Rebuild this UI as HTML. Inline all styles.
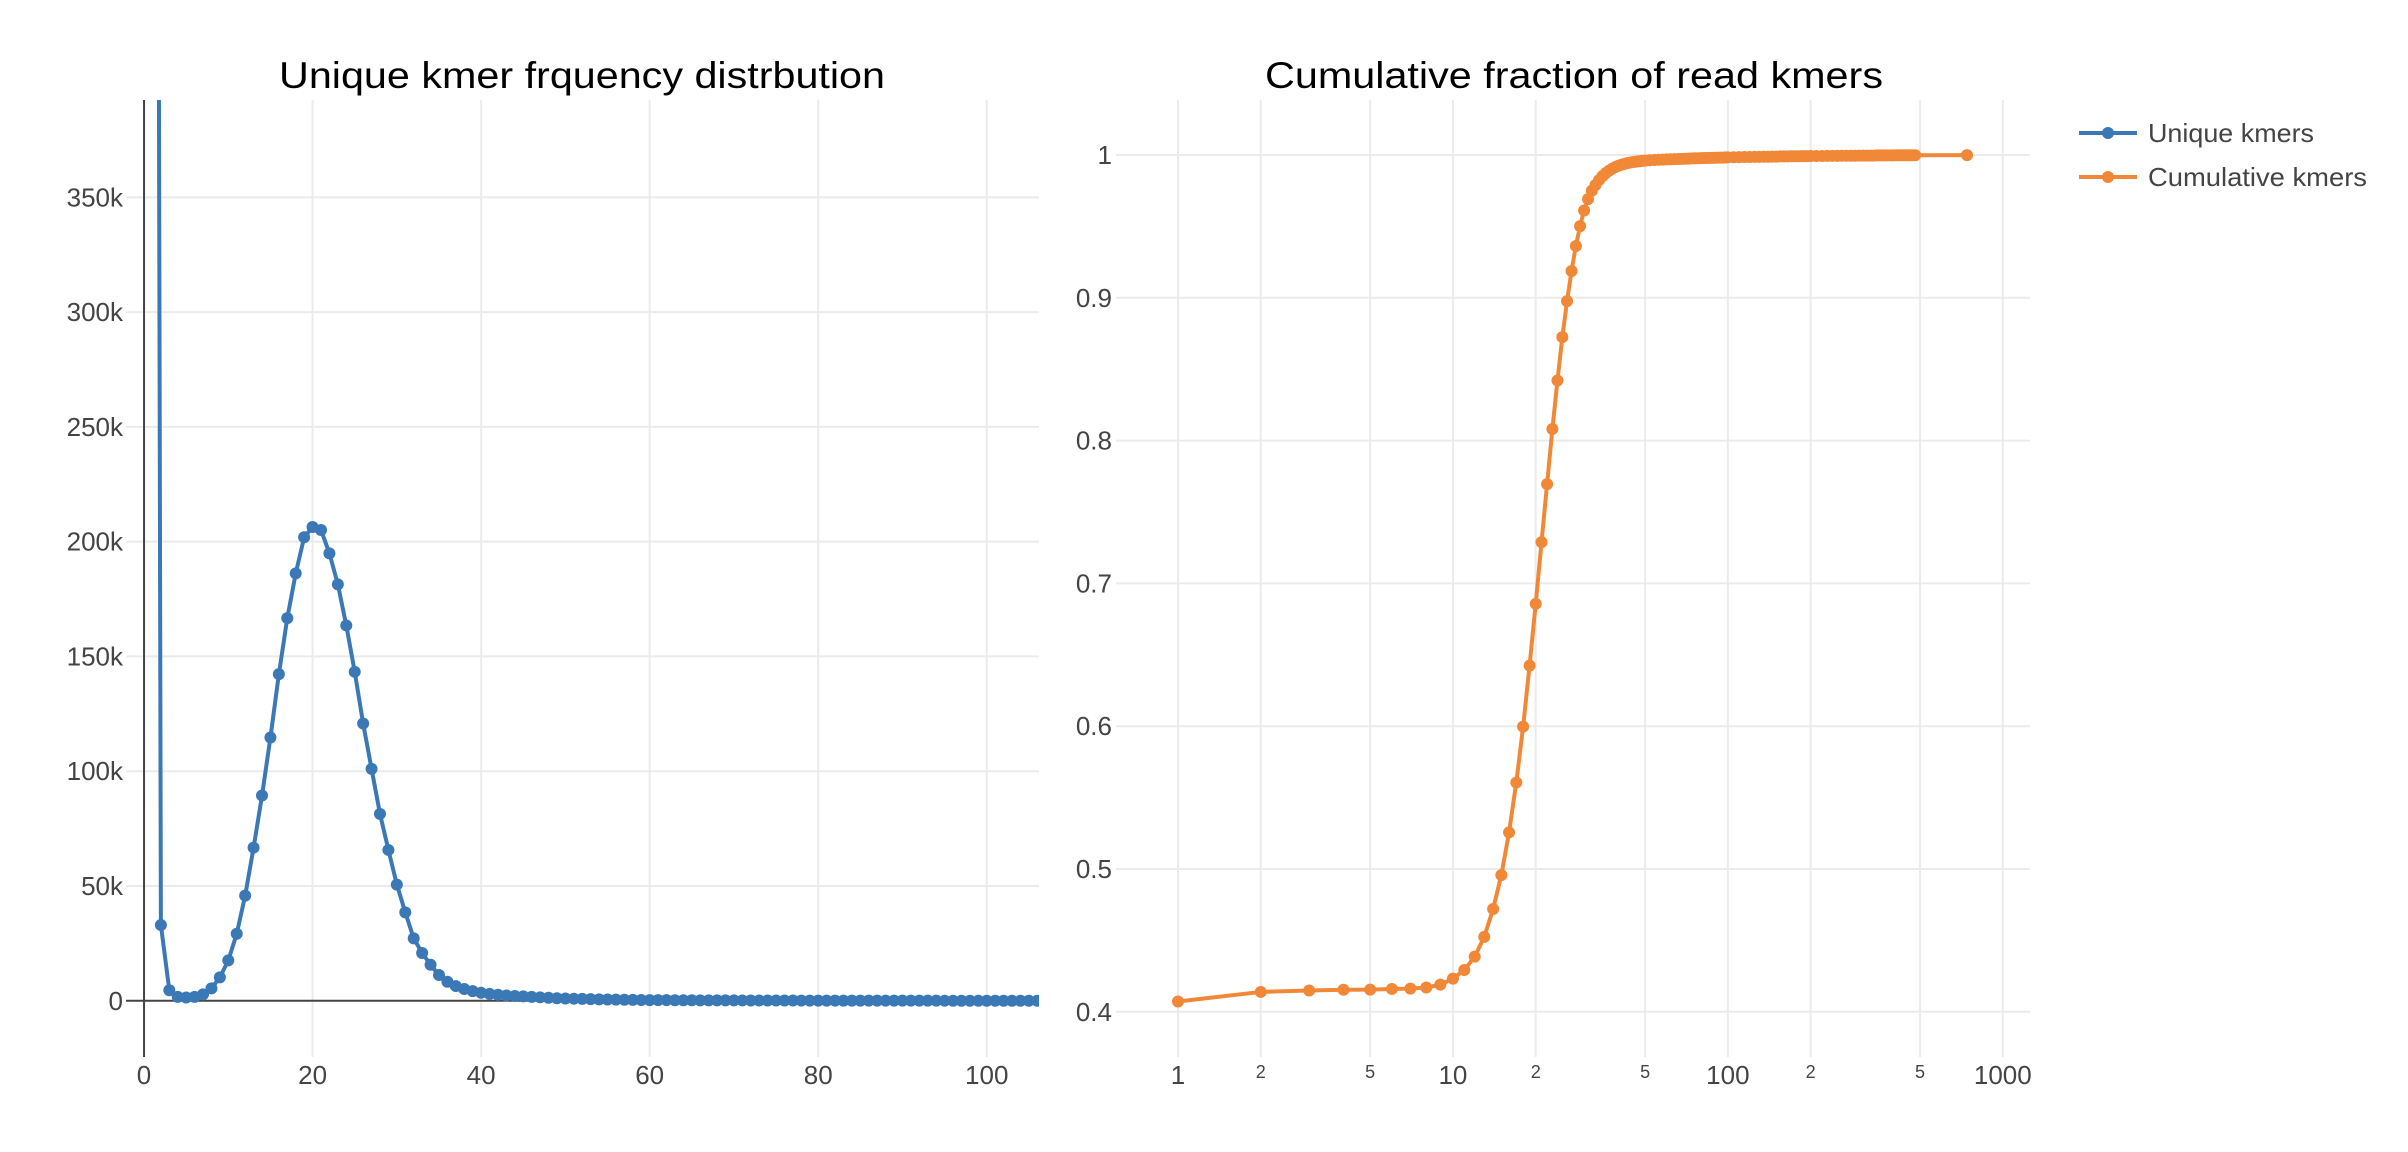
<!DOCTYPE html>
<html><head><meta charset="utf-8"><title>kmer charts</title>
<style>
html,body{margin:0;padding:0;background:#fff;}
svg{display:block;font-family:"Liberation Sans",sans-serif;}
</style></head>
<body>
<svg id="fig" width="2408" height="1152" viewBox="0 0 2408 1152" xmlns="http://www.w3.org/2000/svg">
<defs>
<clipPath id="clipL"><rect x="126" y="100" width="913" height="957"/></clipPath>
<clipPath id="clipR"><rect x="1116" y="94" width="914" height="969"/></clipPath>
</defs>
<g id="left"></g>
<g id="right"></g>
<text x="582" y="88" text-anchor="middle" font-size="37" fill="#000" textLength="606" lengthAdjust="spacingAndGlyphs">Unique kmer frquency distrbution</text>
<text x="1574" y="88" text-anchor="middle" font-size="37" fill="#000" textLength="618" lengthAdjust="spacingAndGlyphs">Cumulative fraction of read kmers</text>
<g>
  <g>
    <line x1="2079" y1="133" x2="2137" y2="133" stroke="#3a78b6" stroke-width="4"/>
    <circle cx="2108" cy="133" r="6" fill="#3a78b6"/>
    <text x="2148" y="142" font-size="26" fill="#444" textLength="166" lengthAdjust="spacingAndGlyphs">Unique kmers</text>
  </g>
  <g>
    <line x1="2079" y1="177" x2="2137" y2="177" stroke="#f08838" stroke-width="4"/>
    <circle cx="2108" cy="177" r="6" fill="#f08838"/>
    <text x="2148" y="186" font-size="26" fill="#444" textLength="219" lengthAdjust="spacingAndGlyphs">Cumulative kmers</text>
  </g>
</g>
</svg>
<script>
// ---- Left chart data ----
const uniqueX = [1,2,3,4,5,6,7,8,9,10,11,12,13,14,15,16,17,18,19,20,21,22,23,24,25,26,27,28,29,30,31,32,33,34,35,36,37,38,39,40,41,42,43,44,45,46,47,48,49,50,51,52,53,54,55,56,57,58,59,60,61,62,63,64,65,66,67,68,69,70,71,72,73,74,75,76,77,78,79,80,81,82,83,84,85,86,87,88,89,90,91,92,93,94,95,96,97,98,99,100,101,102,103,104,105,106,107,108,109,110];
const uniqueY = [1600000,33000,4600,1700,1400,1700,2800,5400,10200,17600,29200,45800,66700,89400,114700,142300,166700,186200,201900,206400,205100,194900,181400,163500,143300,120800,101000,81400,65700,50600,38500,27200,20800,15700,11200,8300,6400,5100,4200,3500,3000,2600,2300,2100,1900,1700,1500,1300,1100,1000,900,800,700,600,550,500,450,400,350,300,280,260,240,220,200,190,180,170,160,150,140,130,120,110,100,95,90,85,80,75,70,65,60,55,50,48,46,44,42,40,38,36,34,32,30,28,26,24,22,20,19,18,17,16,15,14,13,12,11,10];
const leftXTicks = [0,20,40,60,80,100];
const leftYTicks = [0,50000,100000,150000,200000,250000,300000,350000];
const leftYTickLabels = ["0","50k","100k","150k","200k","250k","300k","350k"];

// ---- Right chart data ----
const cumX = [1,2,3,4,5,6,7,8,9,10,11,12,13,14,15,16,17,18,19,20,21,22,23,24,25,26,27,28,29,30,31,32,33,34,35,36,37,38,39,40,41,42,43,44,45,46,47,48,49,50,52,54,56,58,60,62,64,66,68,70,72,74,76,78,80,82,84,86,88,90,92,94,96,98,100,105,110,115,120,125,130,135,140,145,150,155,160,165,170,175,180,185,190,195,200,210,220,230,240,250,260,270,280,290,300,310,320,330,340,350,360,370,380,390,400,410,420,430,440,450,460,470,480,741];
const cumY = [0.4072,0.4139,0.4149,0.4154,0.4155,0.4160,0.4162,0.4170,0.4190,0.4232,0.4293,0.4386,0.4525,0.4720,0.4957,0.5256,0.5606,0.5997,0.6424,0.6857,0.7289,0.7695,0.8081,0.8421,0.8725,0.8977,0.9188,0.9363,0.9502,0.9611,0.9691,0.9750,0.9790,0.9825,0.9852,0.9874,0.9891,0.9905,0.9916,0.9925,0.9932,0.9938,0.9943,0.9947,0.9950,0.9953,0.9955,0.9957,0.9959,0.9961,0.9963,0.9965,0.9967,0.9968,0.9969,0.9970,0.9971,0.9972,0.9973,0.9974,0.9975,0.9976,0.9977,0.9977,0.9978,0.9979,0.9979,0.9980,0.9980,0.9981,0.9981,0.9982,0.9982,0.9983,0.9983,0.9984,0.9985,0.9986,0.9986,0.9987,0.9987,0.9988,0.9988,0.9989,0.9989,0.9990,0.9990,0.9990,0.9991,0.9991,0.9991,0.9992,0.9992,0.9992,0.9993,0.9993,0.9993,0.9994,0.9994,0.9994,0.9995,0.9995,0.9995,0.9995,0.9996,0.9996,0.9996,0.9996,0.9996,0.9997,0.9997,0.9997,0.9997,0.9997,0.9997,0.9998,0.9998,0.9998,0.9998,0.9998,0.9998,0.9998,0.9998,0.99995];
const rightYTicks = [0.4,0.5,0.6,0.7,0.8,0.9,1];
const rightYTickLabels = ["0.4","0.5","0.6","0.7","0.8","0.9","1"];
const rightXMajor = [1,10,100,1000];
const rightXMinor = [2,5,20,50,200,500];

const NS = "http://www.w3.org/2000/svg";
function mk(parent, tag, attrs){
  const e = document.createElementNS(NS, tag);
  for (const k in attrs) e.setAttribute(k, attrs[k]);
  parent.appendChild(e);
  return e;
}

// Left axes
const L = {x0:126, x1:1039, y0:1057, y1:100, xmin:-2.14, xmax:106.2, ymin:-24500, ymax:392400};
const lx = v => L.x0 + (v - L.xmin) / (L.xmax - L.xmin) * (L.x1 - L.x0);
const ly = v => L.y0 - (v - L.ymin) / (L.ymax - L.ymin) * (L.y0 - L.y1);
const gl = document.getElementById('left');

leftXTicks.forEach(t => {
  if (t !== 0) {
    const g = mk(gl, 'line', {x1:lx(t), x2:lx(t), y1:L.y1, y2:L.y0, stroke:'#ebebeb', 'stroke-width':2});
    
    
  }
  const tx = mk(gl, 'text', {x:lx(t), y:1084, 'text-anchor':'middle', 'font-size':26, fill:'#444'});
  tx.textContent = t;
  
  
});
leftYTicks.forEach((t, i) => {
  if (t !== 0) {
    const g = mk(gl, 'line', {x1:L.x0, x2:L.x1, y1:ly(t), y2:ly(t), stroke:'#ebebeb', 'stroke-width':2});
    
    
  }
  const tx = mk(gl, 'text', {x:123, y:ly(t) + 9, 'text-anchor':'end', 'font-size':26, fill:'#444'});
  tx.textContent = leftYTickLabels[i];
  
  
});
const zx = mk(gl, 'line', {x1:lx(0), x2:lx(0), y1:L.y1, y2:L.y0, stroke:'#444', 'stroke-width':2});


const zy = mk(gl, 'line', {x1:L.x0, x2:L.x1, y1:ly(0), y2:ly(0), stroke:'#444', 'stroke-width':2});



const lser = mk(gl, 'g', {'clip-path':'url(#clipL)'});


const lpath = mk(lser, 'polyline', {points: uniqueX.map((x, i) => lx(x) + ',' + ly(uniqueY[i])).join(' '), fill:'none', stroke:'#3a78b6', 'stroke-width':4, 'stroke-linejoin':'round'});


uniqueX.forEach((x, i) => {
  const c = mk(lser, 'circle', {cx:lx(x), cy:ly(uniqueY[i]), r:6, fill:'#3a78b6'});
  
  
});

// Right axes (log x)
const R = {x0:1116, x1:2030, y0:1057, y1:100, lmin:-0.2255, lmax:3.0989, ymin:0.36834, ymax:1.03852};
const rx = v => R.x0 + (Math.log10(v) - R.lmin) / (R.lmax - R.lmin) * (R.x1 - R.x0);
const ry = v => R.y0 - (v - R.ymin) / (R.ymax - R.ymin) * (R.y0 - R.y1);
const gr = document.getElementById('right');

rightXMajor.concat(rightXMinor).forEach(t => {
  const g = mk(gr, 'line', {x1:rx(t), x2:rx(t), y1:R.y1, y2:R.y0, stroke:'#ebebeb', 'stroke-width':2});
  
  
});
rightYTicks.forEach((t, i) => {
  const g = mk(gr, 'line', {x1:R.x0, x2:R.x1, y1:ry(t), y2:ry(t), stroke:'#ebebeb', 'stroke-width':2});
  
  
  const tx = mk(gr, 'text', {x:1112, y:ry(t) + 9, 'text-anchor':'end', 'font-size':26, fill:'#444'});
  tx.textContent = rightYTickLabels[i];
  
  
});
rightXMajor.forEach(t => {
  const tx = mk(gr, 'text', {x:rx(t), y:1084, 'text-anchor':'middle', 'font-size':26, fill:'#444'});
  tx.textContent = t;
  
  
});
rightXMinor.forEach(t => {
  const tx = mk(gr, 'text', {x:rx(t), y:1078, 'text-anchor':'middle', 'font-size':18, fill:'#444'});
  tx.textContent = String(t)[0];
  
  
});

const rser = mk(gr, 'g', {'clip-path':'url(#clipR)'});


const rpath = mk(rser, 'polyline', {points: cumX.map((x, i) => rx(x) + ',' + ry(cumY[i])).join(' '), fill:'none', stroke:'#f08838', 'stroke-width':4, 'stroke-linejoin':'round'});


cumX.forEach((x, i) => {
  const c = mk(rser, 'circle', {cx:rx(x), cy:ry(cumY[i]), r:6, fill:'#f08838'});
  
  
});
</script>
</body></html>
